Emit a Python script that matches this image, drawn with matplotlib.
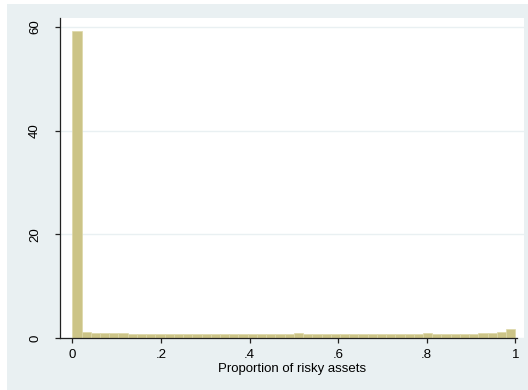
import numpy as np
import matplotlib.pyplot as plt
from matplotlib.patches import Rectangle

plt.rcParams['font.family'] = ['Liberation Sans', 'DejaVu Sans']

# histogram of the share held in risky assets, 48 bins on [0,1], in percent
nbins = 48
pct = [59.2, 1.1, 0.9, 1.0, 0.9, 0.9, 0.8, 0.8, 0.75, 0.8, 0.8, 0.75,
       0.7, 0.8, 0.7, 0.7, 0.75, 0.8, 0.75, 0.7, 0.7, 0.75, 0.8, 0.8,
       1.0, 0.85, 0.75, 0.8, 0.8, 0.75, 0.8, 0.75, 0.8, 0.85, 0.75, 0.8,
       0.8, 0.8, 1.05, 0.8, 0.8, 0.85, 0.85, 0.85, 0.95, 1.0, 1.2, 1.7]
xticks = [0, 0.2, 0.4, 0.6, 0.8, 1]
xticklabels = ['0', '.2', '.4', '.6', '.8', '1']
yticks = [0, 20, 40, 60]

bg = '#e9f0f2'
bar_col = '#ccc487'

fig = plt.figure(figsize=(5.28, 3.9), dpi=100)
fig.patch.set_facecolor('white')
fig.add_artist(Rectangle((7/528, 0), 1 - 7/528, 386/390, transform=fig.transFigure,
                         facecolor=bg, edgecolor='none', zorder=-10))

ax = fig.add_axes([60/528, 1 - 338/390, 464/528, 320/390])
ax.set_facecolor('white')

width = 1.0 / nbins
left = np.arange(nbins) * width
ax.bar(left, pct, width=width, align='edge', color=bar_col,
       edgecolor='#ddd7a8', linewidth=0.5, zorder=2)

ax.set_xlim(-0.0278, 1.0196)
ax.set_ylim(0, 61.74)
ax.set_xticks(xticks)
ax.set_xticklabels(xticklabels)
ax.set_yticks(yticks)
ax.set_yticklabels([str(v) for v in yticks], rotation=90, va='center')

ax.grid(axis='y', color=bg, linewidth=1.0, zorder=1)
ax.set_axisbelow(True)

for s in ['top', 'right']:
    ax.spines[s].set_visible(False)
for s in ['left', 'bottom']:
    ax.spines[s].set_color('#222222')
    ax.spines[s].set_linewidth(0.9)
ax.spines['bottom'].set_bounds(-0.0278, 1.004)

ax.tick_params(axis='both', length=3.6, width=0.9, color='#222222', labelsize=9.5)
ax.tick_params(axis='x', pad=4)
ax.tick_params(axis='y', pad=10)

ax.set_xlabel('Proportion of risky assets', fontsize=9.5, labelpad=2)

plt.savefig('out.png', dpi=100, facecolor=fig.get_facecolor())
